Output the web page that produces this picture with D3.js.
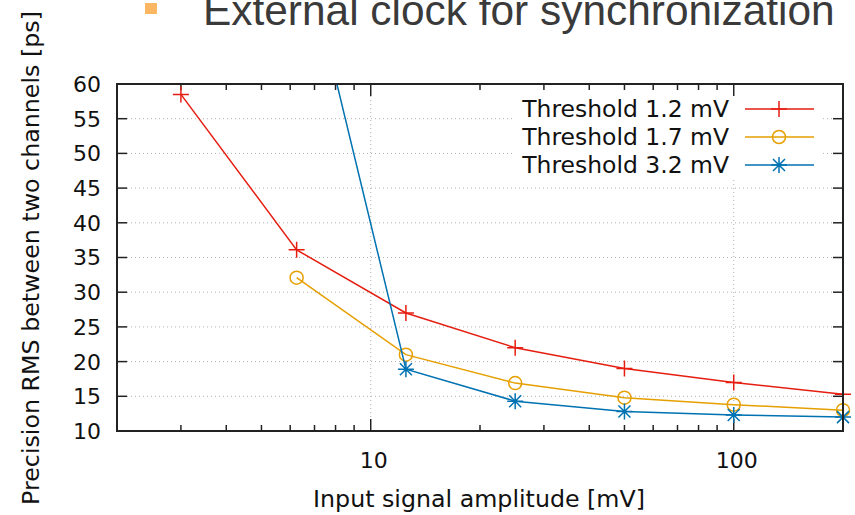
<!DOCTYPE html>
<html><head><meta charset="utf-8">
<script src="https://cdn.jsdelivr.net/npm/d3@7"></script>
<style>body{margin:0;background:#fff}svg{display:block}</style>
</head><body>
<svg id="c" width="855" height="515"></svg>
<script>
const xValues = [3, 6.25, 12.5, 25, 50, 100, 200];
const thr12 = [58.5, 36.1, 27.0, 22.0, 19.0, 17.0, 15.3];
const thr17 = [null, 32.1, 21.0, 16.9, 14.8, 13.8, 13.0];
const thr32 = [null, 84, 18.9, 14.3, 12.8, 12.3, 12.0];
const seriesNames = ["Threshold 1.2 mV", "Threshold 1.7 mV", "Threshold 3.2 mV"];
const seriesColors = ["#e51e10", "#e69f00", "#0072b2"];
const seriesMarkers = ["plus", "circle", "star"];
const yTicks = [10, 15, 20, 25, 30, 35, 40, 45, 50, 55, 60];
const xTickLabels = [10, 100];
const title = "External clock for synchronization";
const xLabel = "Input signal amplitude [mV]";
const yLabel = "Precision RMS between two channels [ps]";

const svg = d3.select("#c");
const L = 117, R = 843, T = 84, B = 431;
const x = d3.scaleLog().domain([2, 200]).range([L, R]);
const y = d3.scaleLinear().domain([10, 60]).range([B, T]);
const font = "'DejaVu Sans', Verdana, sans-serif";

function fit(sel, target) {
  const w = sel.node().getComputedTextLength();
  const fs = +sel.attr("font-size");
  sel.attr("font-size", fs * target / w);
}

// title
svg.append("rect").attr("x", 145).attr("y", 3).attr("width", 12).attr("height", 11).attr("fill", "#fbb661");
const tt = svg.append("text").attr("x", 203).attr("y", 25).attr("font-family", "'Liberation Sans', Arial, sans-serif")
  .attr("font-size", 38).attr("fill", "#3a3a3a").text(title);
fit(tt, 632);

// grid
const grid = svg.append("g").attr("stroke", "#b0b0b0").attr("stroke-width", 1).attr("stroke-dasharray", "1,3");
yTicks.filter(v => v > 10 && v < 60).forEach(v => {
  grid.append("line").attr("x1", L + 10).attr("x2", R - 10).attr("y1", y(v)).attr("y2", y(v));
});
xTickLabels.forEach(v => {
  grid.append("line").attr("x1", x(v)).attr("x2", x(v)).attr("y1", T + 12).attr("y2", B - 12);
});

// ticks
const ticks = svg.append("g").attr("stroke", "#222").attr("stroke-width", 1.5);
yTicks.forEach(v => {
  ticks.append("line").attr("x1", L).attr("x2", L + 10).attr("y1", y(v)).attr("y2", y(v));
  ticks.append("line").attr("x1", R).attr("x2", R - 10).attr("y1", y(v)).attr("y2", y(v));
});
const minor = [];
[1, 10, 100].forEach(d => { for (let k = 1; k <= 9; k++) { const v = d * k; if (v >= 2 && v <= 200) minor.push(v); } });
minor.forEach(v => {
  const major = xTickLabels.includes(v);
  const len = major ? 12 : 6;
  ticks.append("line").attr("x1", x(v)).attr("x2", x(v)).attr("y1", B).attr("y2", B - len);
  ticks.append("line").attr("x1", x(v)).attr("x2", x(v)).attr("y1", T).attr("y2", T + len);
});

// tick labels
svg.append("g").selectAll("text").data(yTicks).join("text")
  .attr("x", 101).attr("y", d => y(d)).attr("dy", "0.36em").attr("text-anchor", "end")
  .attr("font-family", font).attr("font-size", 22).attr("fill", "#111").text(d => d);
svg.append("g").selectAll("text").data(xTickLabels).join("text")
  .attr("x", d => x(d) + 3).attr("y", 468).attr("text-anchor", "middle")
  .attr("font-family", font).attr("font-size", 22).attr("fill", "#111").text(d => d);

// axis labels
const xl = svg.append("text").attr("x", 479).attr("y", 507).attr("text-anchor", "middle")
  .attr("font-family", font).attr("font-size", 20).attr("fill", "#111").text(xLabel);
fit(xl, 332);
const yl = svg.append("text").attr("transform", "translate(30,258) rotate(-90)").attr("text-anchor", "middle")
  .attr("dy", "0.36em").attr("font-family", font).attr("font-size", 20).attr("fill", "#111").text(yLabel);
fit(yl, 494);

// clip
svg.append("clipPath").attr("id", "clip").append("rect").attr("x", 0).attr("y", T).attr("width", 855).attr("height", B - T + 10);

function marker(g, type, cx, cy, color) {
  if (type === "plus") {
    g.append("path").attr("d", `M${cx-8},${cy}H${cx+8}M${cx},${cy-8}V${cy+8}`).attr("stroke", color).attr("stroke-width", 1.5).attr("fill", "none");
  } else if (type === "circle") {
    g.append("circle").attr("cx", cx).attr("cy", cy).attr("r", 6.5).attr("stroke", color).attr("stroke-width", 1.5).attr("fill", "none");
  } else {
    const a = 6;
    g.append("path").attr("d", `M${cx-8},${cy}H${cx+8}M${cx},${cy-8}V${cy+8}M${cx-a},${cy-a}L${cx+a},${cy+a}M${cx-a},${cy+a}L${cx+a},${cy-a}`)
      .attr("stroke", color).attr("stroke-width", 1.5).attr("fill", "none");
  }
}

const allSeries = [thr12, thr17, thr32];
const plot = svg.append("g").attr("clip-path", "url(#clip)");
const line = d3.line().defined(d => d[1] != null).x(d => x(d[0])).y(d => y(d[1]));
allSeries.forEach((s, i) => {
  const pts = xValues.map((xv, j) => [xv, s[j]]);
  plot.append("path").attr("d", line(pts)).attr("fill", "none").attr("stroke", seriesColors[i]).attr("stroke-width", 1.5);
  pts.filter(p => p[1] != null).forEach(p => marker(plot, seriesMarkers[i], x(p[0]), y(p[1]), seriesColors[i]));
});

// frame
svg.append("rect").attr("x", L).attr("y", T).attr("width", R - L).attr("height", B - T)
  .attr("fill", "none").attr("stroke", "#222").attr("stroke-width", 2);

// legend
const lg = svg.append("g");
seriesNames.forEach((n, i) => {
  const yy = 109 + i * 28;
  lg.append("rect").attr("x", 515).attr("y", yy - 13).attr("width", 305).attr("height", 26).attr("fill", "#fff");
  const t = lg.append("text").attr("x", 729).attr("y", yy).attr("dy", "0.36em").attr("text-anchor", "end")
    .attr("font-family", font).attr("font-size", 20).attr("fill", "#111").text(n);
  fit(t, 207);
  lg.append("line").attr("x1", 745).attr("x2", 814).attr("y1", yy).attr("y2", yy).attr("stroke", seriesColors[i]).attr("stroke-width", 1.5);
  marker(lg, seriesMarkers[i], 779, yy, seriesColors[i]);
});
</script>
</body></html>
